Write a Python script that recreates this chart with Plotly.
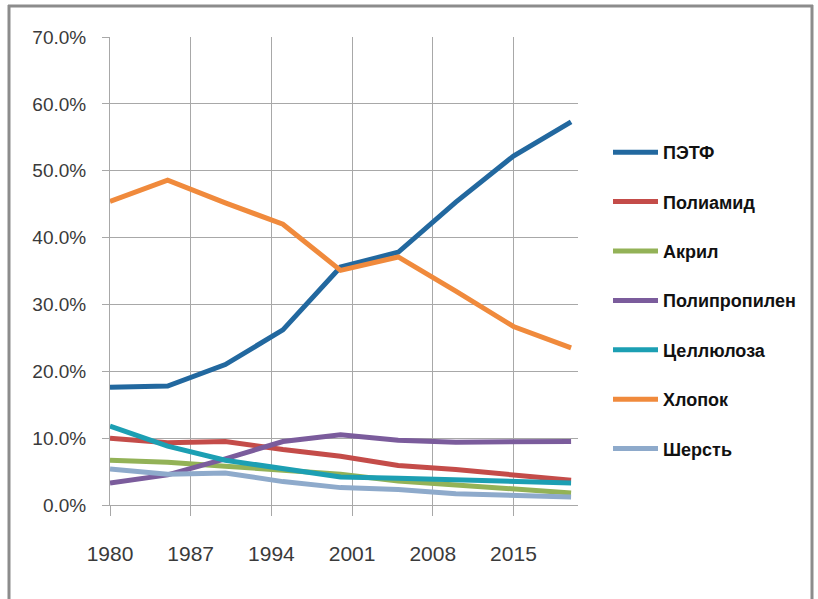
import plotly.graph_objects as go

years = [1980, 1985, 1990, 1995, 2000, 2005, 2010, 2015, 2020]
pet = [17.6, 17.8, 21.0, 26.2, 35.6, 37.8, 45.3, 52.2, 57.3]
polyamide = [10.0, 9.3, 9.5, 8.3, 7.3, 5.9, 5.3, 4.5, 3.7]
acrylic = [6.7, 6.4, 5.8, 5.2, 4.6, 3.6, 3.0, 2.5, 1.8]
polypropylene = [3.3, 4.5, 6.9, 9.5, 10.5, 9.7, 9.4, 9.5, 9.5]
cellulose = [11.8, 8.8, 6.7, 5.5, 4.2, 4.0, 3.8, 3.5, 3.3]
cotton = [45.4, 48.6, 45.2, 42.0, 35.1, 37.1, 32.0, 26.7, 23.5]
wool = [5.4, 4.6, 4.8, 3.5, 2.6, 2.3, 1.7, 1.4, 1.2]

names = ["ПЭТФ", "Полиамид", "Акрил", "Полипропилен", "Целлюлоза", "Хлопок", "Шерсть"]
series = [pet, polyamide, acrylic, polypropylene, cellulose, cotton, wool]
colors = ["#22689f", "#c44c49", "#93b257", "#7b5c9c", "#1c9fb3", "#f08a3c", "#8eaacb"]

xticks = [1980, 1987, 1994, 2001, 2008, 2015]
yticks = [0, 10, 20, 30, 40, 50, 60, 70]
ytext = ["0.0%", "10.0%", "20.0%", "30.0%", "40.0%", "50.0%", "60.0%", "70.0%"]

fig = go.Figure()
for n, s, c in zip(names, series, colors):
    fig.add_trace(go.Scatter(x=years, y=s, name=n, mode="lines",
                             line=dict(color=c, width=5),
                             legendgroup=n))

grid = "#a8a8a8"
W, H = 818, 599
L, R, T, B = 110, 240, 37, 94
pw, ph = W - L - R, H - T - B

def px(x):
    return (x - L) / pw

def py(y):
    return (H - B - y) / ph

border = "#8c8c8c"
shapes = [
    dict(type="line", xref="paper", yref="paper", x0=px(9), x1=px(9), y0=py(5), y1=py(600),
         line=dict(color=border, width=3)),
    dict(type="line", xref="paper", yref="paper", x0=px(8), x1=px(813), y0=py(6), y1=py(6),
         line=dict(color=border, width=3)),
    dict(type="line", xref="paper", yref="paper", x0=px(812), x1=px(812), y0=py(5), y1=py(600),
         line=dict(color=border, width=3)),
]

fig.update_layout(
    width=W, height=H,
    margin=dict(l=L, r=R, t=T, b=B),
    paper_bgcolor="white", plot_bgcolor="white",
    shapes=shapes,
    legend=dict(x=px(608), xanchor="left", y=py(134), yanchor="top",
                font=dict(family="Liberation Sans, Arial, sans-serif", size=18,
                          color="#111111", weight="bold"),
                tracegroupgap=23, itemwidth=45, bgcolor="rgba(0,0,0,0)"),
    xaxis=dict(range=[1980, 2020.6], tickvals=xticks, ticktext=[str(v) for v in xticks],
               showgrid=True, gridcolor=grid, gridwidth=1,
               showline=True, linecolor=grid, linewidth=1,
               ticks="outside", ticklen=10, tickcolor=grid,
               ticklabelstandoff=20, zeroline=False,
               tickfont=dict(family="Liberation Sans, Arial, sans-serif", size=21,
                             color="#3a3a3a")),
    yaxis=dict(range=[0, 70], tickvals=yticks, ticktext=ytext,
               showgrid=True, gridcolor=grid, gridwidth=1,
               showline=True, linecolor=grid, linewidth=1,
               ticks="outside", ticklen=7, tickcolor=grid,
               ticklabelstandoff=12, zeroline=False,
               tickfont=dict(family="Liberation Sans, Arial, sans-serif", size=19,
                             color="#3a3a3a")),
)

fig.write_html("out.html")
